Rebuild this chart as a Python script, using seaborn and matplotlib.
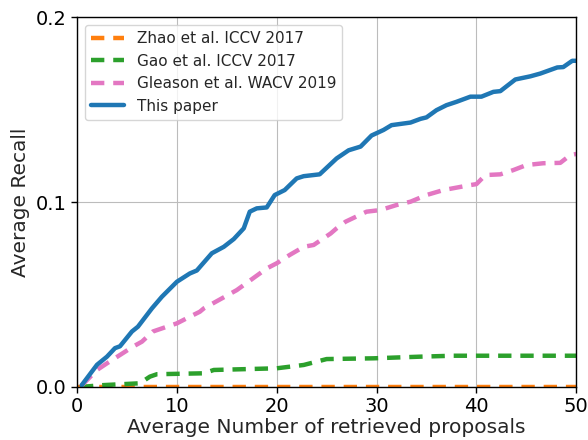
import numpy as np
import pandas as pd
import matplotlib
matplotlib.use("Agg")
import matplotlib.pyplot as plt
import seaborn as sns

# values
zhao_x = [0, 10, 20, 30, 40, 50]
zhao_y = [0.0, 0.0, 0.0, 0.0, 0.0, 0.0]

gao_x = [0.3, 2.6, 6.3, 7.3, 8.0, 12.7, 13.7, 20.0, 22.7, 24.0, 25.0, 29.7, 34.4, 37.7, 50.0]
gao_y = [0.0, 0.001, 0.002, 0.0056, 0.0069, 0.0074, 0.0092, 0.0101, 0.0119, 0.0137, 0.0151,
         0.0155, 0.0164, 0.0169, 0.0169]

gleason_x = [0.5, 2.0, 3.0, 4.3, 5.6, 6.5, 7.6, 9.0, 10.0, 11.3, 12.3, 12.7, 16.0, 19.0, 20.0,
             21.3, 22.7, 23.7, 25.4, 26.0, 26.9, 29.0, 30.4, 32.0, 33.4, 35.0, 36.7, 39.4, 40.0,
             40.9, 42.4, 43.7, 45.0, 46.7, 48.4, 49.4, 50.0]
gleason_y = [0.001, 0.0092, 0.0128, 0.0173, 0.0218, 0.0245, 0.030, 0.0326, 0.0344, 0.038, 0.0407,
             0.0425, 0.0524, 0.0641, 0.0669, 0.0714, 0.0758, 0.0768, 0.083, 0.0858, 0.0894, 0.0948,
             0.0957, 0.0984, 0.1002, 0.1038, 0.1065, 0.1092, 0.1097, 0.1146, 0.115, 0.1173, 0.120,
             0.121, 0.1212, 0.1254, 0.126]

ours_x = [0.47, 2.0, 3.0, 3.8, 4.3, 5.5, 6.1, 7.5, 8.5, 10.0, 11.3, 12.0, 13.5, 14.7, 15.7, 16.7,
          17.3, 18.0, 19.0, 19.8, 20.8, 22.0, 22.7, 24.3, 26.0, 27.2, 28.4, 29.5, 30.7, 31.5,
          33.4, 34.4, 35.0, 36.0, 37.0, 38.0, 39.4, 40.5, 41.7, 42.4, 43.9, 45.4, 46.4, 48.1,
          48.7, 49.6, 50.0]
ours_y = [0.001, 0.012, 0.0164, 0.021, 0.022, 0.030, 0.0326, 0.0425, 0.0488, 0.0569, 0.0614,
          0.063, 0.0723, 0.0758, 0.080, 0.0858, 0.0948, 0.0966, 0.0971, 0.1038, 0.1065, 0.1128,
          0.114, 0.115, 0.1236, 0.128, 0.130, 0.136, 0.139, 0.1416, 0.143, 0.145, 0.1458, 0.1497,
          0.1524, 0.1542, 0.157, 0.157, 0.1596, 0.160, 0.1663, 0.168, 0.1695, 0.1728, 0.173,
          0.1764, 0.1764]

sns.set_style("whitegrid", {"axes.edgecolor": "black", "grid.color": "#bcbcbc",
                            "xtick.bottom": True, "ytick.left": True})
plt.rcParams['font.family'] = ['DejaVu Sans']

fig = plt.figure(figsize=(5.88, 4.4), dpi=100)
ax = fig.add_axes([0.131, 0.1205, 0.849, 0.8405])

series = [
    ("Zhao et al. ICCV 2017", zhao_x, zhao_y, "tab:orange", (0, (3, 2))),
    ("Gao et al. ICCV 2017", gao_x, gao_y, "tab:green", (0, (3, 2))),
    ("Gleason et al. WACV 2019", gleason_x, gleason_y, "tab:pink", (0, (3, 2))),
    ("This paper", ours_x, ours_y, "tab:blue", "-"),
]
for name, xs, ys, col, ls in series:
    df = pd.DataFrame({"x": xs, "y": ys})
    sns.lineplot(data=df, x="x", y="y", ax=ax, color=col, linestyle=ls, linewidth=3.2,
                 label=name)

ax.set_xlim(0, 50)
ax.set_ylim(0, 0.2)
ax.set_xticks([0, 10, 20, 30, 40, 50])
ax.set_yticks([0.0, 0.1, 0.2])
ax.set_yticklabels(["0.0", "0.1", "0.2"])
ax.tick_params(labelsize=14, length=4, width=1, colors="black")
ax.set_xlabel("Average Number of retrieved proposals", fontsize=14.5, labelpad=1)
ax.set_ylabel("Average Recall", fontsize=14.5)
for s in ax.spines.values():
    s.set_color("black")
    s.set_linewidth(1.0)
ax.legend(loc="upper left", fontsize=11, frameon=True, handlelength=2.2)

fig.savefig("out.png", dpi=100)
